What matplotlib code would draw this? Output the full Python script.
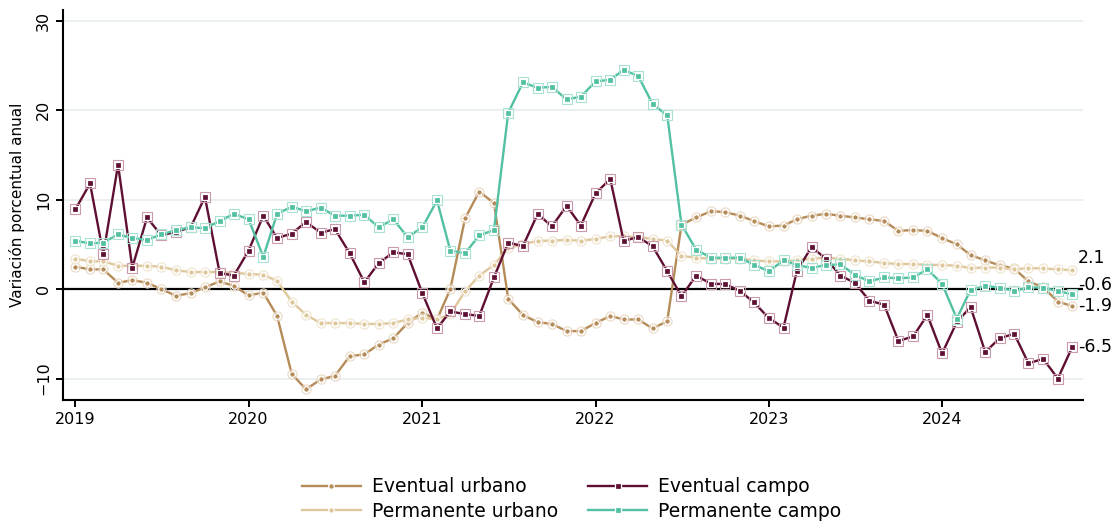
import numpy as np
import pandas as pd
import matplotlib
matplotlib.use("Agg")
import matplotlib.pyplot as plt
import matplotlib.dates as mdates

# -------------------------------
# Datos: variacion porcentual anual (mensual, ene-2019 a oct-2024)
# -------------------------------
fechas = pd.date_range("2019-01-01", periods=70, freq="MS")

eventual_urbano = [
    2.5, 2.2, 2.2, 0.7, 1.0, 0.7, 0.0, -0.75, -0.45, 0.2, 0.85, 0.35,
    -0.7, -0.4, -3.0, -9.5, -11.2, -10.1, -9.7, -7.5, -7.3, -6.2, -5.5, -3.8,
    -2.65, -3.4, 0.0, 7.9, 10.9, 9.6, -1.1, -2.9, -3.7, -3.9, -4.7, -4.7,
    -3.8, -3.0, -3.4, -3.4, -4.4, -3.6, 7.2, 8.0, 8.7, 8.6, 8.2, 7.6,
    7.0, 7.1, 7.8, 8.2, 8.4, 8.2, 8.0, 7.8, 7.6, 6.5, 6.6, 6.5,
    5.7, 5.0, 3.8, 3.2, 2.65, 2.3, 0.86, 0.2, -1.4, -1.9,
]
permanente_urbano = [
    3.4, 3.1, 3.1, 2.6, 2.6, 2.6, 2.5, 2.1, 1.9, 1.9, 1.9, 1.8,
    1.7, 1.6, 0.9, -1.4, -2.9, -3.8, -3.8, -3.8, -3.9, -3.9, -3.8, -3.4,
    -3.2, -3.4, -2.8, -0.25, 1.5, 2.7, 4.6, 5.0, 5.4, 5.4, 5.5, 5.4,
    5.6, 5.9, 5.9, 5.8, 5.6, 5.4, 3.7, 3.5, 3.4, 3.4, 3.4, 3.2,
    3.1, 3.1, 3.2, 3.4, 3.5, 3.4, 3.2, 3.1, 2.9, 2.8, 2.8, 2.7,
    2.7, 2.6, 2.35, 2.4, 2.4, 2.2, 2.35, 2.3, 2.2, 2.1,
]
eventual_campo = [
    8.9, 11.8, 3.9, 13.9, 2.4, 8.0, 6.0, 6.4, 6.9, 10.3, 1.8, 1.5,
    4.3, 8.2, 5.7, 6.2, 7.5, 6.3, 6.7, 4.0, 0.75, 2.9, 4.1, 3.9,
    -0.45, -4.4, -2.5, -2.8, -3.0, 1.3, 5.2, 4.8, 8.4, 7.0, 9.3, 7.1,
    10.7, 12.3, 5.4, 5.8, 4.8, 2.0, -0.8, 1.5, 0.6, 0.55, -0.2, -1.5,
    -3.25, -4.3, 2.0, 4.7, 3.4, 1.5, 0.7, -1.3, -1.75, -5.8, -5.3, -2.9,
    -7.2, -3.7, -2.0, -7.05, -5.5, -5.0, -8.3, -7.8, -10.0, -6.5,
]
permanente_campo = [
    5.4, 5.1, 5.2, 6.1, 5.7, 5.5, 6.1, 6.6, 6.9, 6.8, 7.6, 8.4,
    7.8, 3.6, 8.4, 9.2, 8.7, 9.1, 8.2, 8.2, 8.3, 6.9, 7.8, 5.8,
    6.9, 9.9, 4.3, 4.0, 6.0, 6.6, 19.7, 23.1, 22.5, 22.6, 21.2, 21.5,
    23.2, 23.4, 24.5, 23.8, 20.7, 19.4, 7.2, 4.4, 3.5, 3.5, 3.5, 2.7,
    2.0, 3.2, 2.7, 2.35, 2.7, 2.75, 1.6, 0.86, 1.3, 1.2, 1.3, 2.2,
    0.6, -3.3, -0.1, 0.35, 0.15, -0.2, 0.2, 0.15, -0.2, -0.6,
]

nombres = ["Eventual urbano", "Permanente urbano", "Eventual campo", "Permanente campo"]
colores = ["#b58b58", "#dfc79c", "#5f0f33", "#52c0a2"]
bordes = ["#ead9c4", "#efe4cf", "#c99aae", "#a9e2d2"]
marcas = ["o", "o", "s", "s"]
series = [eventual_urbano, permanente_urbano, eventual_campo, permanente_campo]
desfase_etiqueta = [0.0, 1.4, 0.0, 1.1]  # para que no se encimen

# -------------------------------
# Grafica
# -------------------------------
plt.rcParams["font.family"] = "DejaVu Sans"
fig = plt.figure(figsize=(11.17, 5.22), dpi=100)
ax = fig.add_axes([0.0564, 0.2337, 0.9132, 0.7473])

for yv in [-10, 10, 20, 30]:
    ax.axhline(yv, color="#e8eef1", lw=1.3, zorder=0)
ax.axhline(0, color="black", lw=1.6, zorder=1)

handles = []
for nom, col, bor, mk, datos in zip(nombres, colores, bordes, marcas, series):
    ms = 4.0 if mk == "o" else 4.4
    ln, = ax.plot(fechas, datos, color=col, lw=1.7, marker=mk, ms=ms,
                  mfc=col, mec="white", mew=0.9, label=nom, zorder=3)
    ax.plot(fechas, datos, ls="none", marker=mk, ms=ms + 2.6, mfc="none",
            mec=bor, mew=0.8, zorder=3)
    handles.append(ln)

# etiquetas del ultimo valor
for col, datos, d in zip(colores, series, desfase_etiqueta):
    ax.annotate(f"{datos[-1]:.1f}", xy=(fechas[-1], datos[-1] + d),
                xytext=(4, 0), textcoords="offset points",
                va="center", ha="left", fontsize=12.5, color="black")

ax.set_xlim(pd.Timestamp("2018-12-06"), pd.Timestamp("2024-10-24"))
ax.set_ylim(-12.4, 31.2)
ax.set_yticks([-10, 0, 10, 20, 30])
ax.xaxis.set_major_locator(mdates.YearLocator())
ax.xaxis.set_major_formatter(mdates.DateFormatter("%Y"))
for lab in ax.get_yticklabels():
    lab.set_rotation(90)
    lab.set_va("center")
ax.tick_params(axis="both", direction="out", length=5, width=1.4, labelsize=11.5)
ax.set_ylabel("Variación porcentual anual", fontsize=11)
ax.yaxis.set_label_coords(-0.037, 0.5)

for s in ["top", "right"]:
    ax.spines[s].set_visible(False)
for s in ["left", "bottom"]:
    ax.spines[s].set_linewidth(1.5)

fig.legend(handles=handles, loc="lower center", ncol=2, frameon=False,
           bbox_to_anchor=(0.5117, -0.03), fontsize=13.5, handlelength=3.15,
           columnspacing=1.6, labelspacing=0.3, handletextpad=0.6)

fig.savefig("out.png", dpi=100)
